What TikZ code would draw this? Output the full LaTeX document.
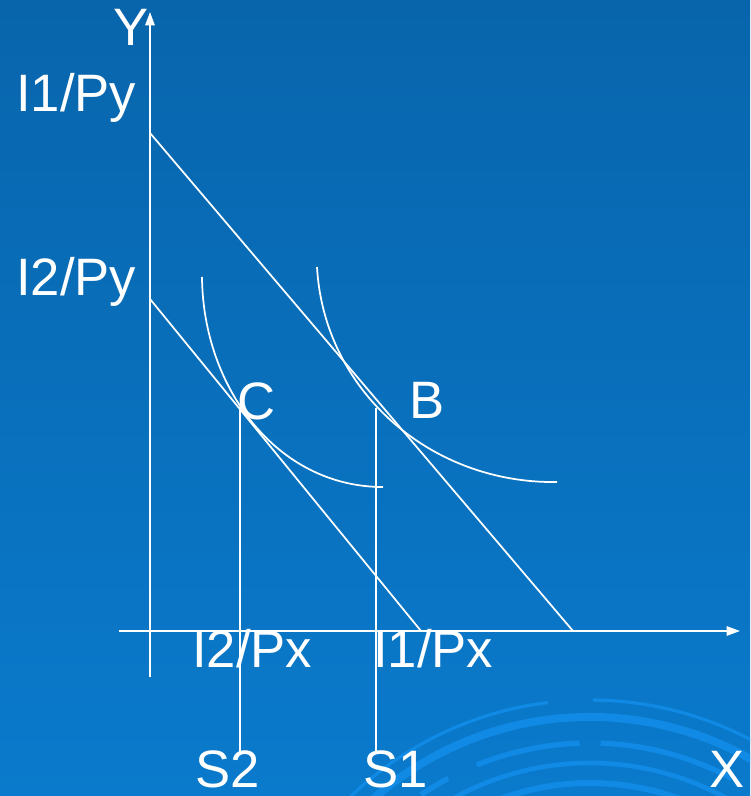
\documentclass[tikz,border=0pt]{standalone}
\usepackage{fontspec}
\setmainfont{Liberation Sans}
\usetikzlibrary{arrows.meta}
\definecolor{bgtop}{RGB}{8,101,172}
\definecolor{bgbot}{RGB}{10,122,204}
\definecolor{deco}{RGB}{16,138,228}
\begin{document}
\begin{tikzpicture}[x=0.75pt,y=-0.75pt,
  lbl/.style={text=white,font=\fontsize{39.5}{46}\selectfont,inner sep=0pt,anchor=base west},
  ln/.style={draw=white,line width=1.3pt},
  ax/.style={ln,-{Triangle[length=10pt,width=7pt]}},
  decoarc/.style={draw=deco}]
\useasboundingbox (0,0) rectangle (750,796);
% background
\fill[top color=bgtop,bottom color=bgbot] (0,0) rectangle (750,796);
% decoration
\begin{scope}
\clip (0,0) rectangle (750,796);
\begin{scope}[shift={(590,1045)},yscale=-1]
\draw[decoarc,line width=2.4pt] (97:345) arc[start angle=97,end angle=150,radius=345];
\draw[decoarc,line width=2.4pt] (30:345) arc[start angle=30,end angle=89.5,radius=345];
\draw[decoarc,line width=6pt] (25:328) arc[start angle=25,end angle=155,radius=328];
\draw[decoarc,line width=4pt] (92:302) arc[start angle=92,end angle=112,radius=302];
\draw[decoarc,line width=4pt] (62:302) arc[start angle=62,end angle=88,radius=302];
\draw[decoarc,line width=4pt] (118:302) arc[start angle=118,end angle=124,radius=302];
\draw[decoarc,line width=3.5pt] (30:282) arc[start angle=30,end angle=150,radius=282];
\draw[decoarc,line width=4.5pt] (40:262) arc[start angle=40,end angle=140,radius=262];
\end{scope}
\end{scope}
% coordinates
\coordinate (yb) at (150,677); \coordinate (yt) at (150,12);
\coordinate (xl) at (119,631); \coordinate (xr) at (740,631);
\coordinate (a1) at (150,133); \coordinate (b1) at (573,631);
\coordinate (a2) at (150,299); \coordinate (b2) at (421,631);
\coordinate (c2s) at (202,277); \coordinate (c2e) at (383,487);
\coordinate (c1s) at (317,267); \coordinate (c1e) at (557,482);
\coordinate (ct) at (240,407); \coordinate (cb) at (240,753);
\coordinate (bt) at (376,408); \coordinate (bb) at (376,753);
% axes
\draw[ax] (yb) -- (yt);
\draw[ax] (xl) -- (xr);
% budget lines
\draw[ln] (a1) -- (b1);
\draw[ln] (a2) -- (b2);
% indifference curves
\draw[ln] (c2s) .. controls (203,389) and (278,487) .. (c2e);
\draw[ln] (c1s) .. controls (324,392) and (432,484) .. (c1e);
% verticals
\draw[ln] (ct) -- (cb);
\draw[ln] (bt) -- (bb);
% labels
\node[lbl] (ylab) at (113,45) {Y};
\node[lbl] (i1py) at (16,111) {I1/Py};
\node[lbl] (i2py) at (16,295) {I2/Py};
\node[lbl] (clab) at (237,419) {C};
\node[lbl] (blab) at (409,418) {B};
\node[lbl] (i2px) at (192,667) {I2/Px};
\node[lbl] (i1px) at (373,667) {I1/Px};
\node[lbl] (s2) at (195,787) {S2};
\node[lbl] (s1) at (363,787) {S1};
\node[lbl] (xlab) at (709,787) {X};
\end{tikzpicture}
\end{document}
